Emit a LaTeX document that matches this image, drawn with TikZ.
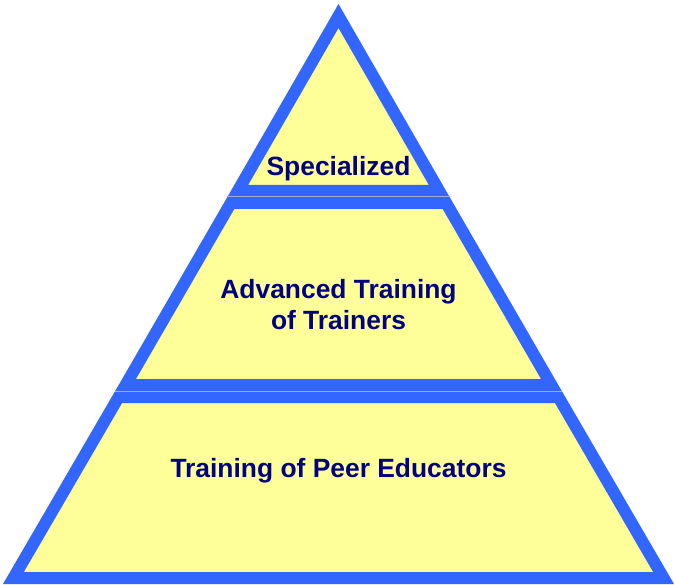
\documentclass[tikz,border=0pt]{standalone}
\usepackage{fontspec}
\setmainfont{Liberation Sans}
\usepackage{xcolor}
\usepackage{tikz}
\definecolor{pyrblue}{RGB}{51, 102, 255}
\definecolor{pyryellow}{RGB}{255, 255, 153}
\definecolor{pyrnavy}{RGB}{0, 0, 128}
\definecolor{pyrseam}{RGB}{160, 172, 215}

\tikzset{
  tier/.style={fill=pyryellow, draw=pyrblue, line width=24pt, line join=miter},
  seam/.style={draw=pyrseam, line width=1pt},
  tierlabel/.style={text=pyrnavy, font=\fontsize{26.4}{31}\selectfont\bfseries, align=center, anchor=base, inner sep=0pt}
}

\begin{document}
\begin{tikzpicture}[x=1pt, y=-1pt]
\useasboundingbox (0,0) rectangle (674,585);

% three tiers, each stroked on the inside only
\begin{scope}
  \clip (338.5,4) -- (449.6,197) -- (227.4,197) -- cycle;
  \draw[tier] (338.5,4) -- (449.6,197) -- (227.4,197) -- cycle;
\end{scope}
\begin{scope}
  \clip (227.4,197) -- (449.6,197) -- (561.8,391) -- (115.2,391) -- cycle;
  \draw[tier] (227.4,197) -- (449.6,197) -- (561.8,391) -- (115.2,391) -- cycle;
\end{scope}
\begin{scope}
  \clip (115.2,391) -- (561.8,391) -- (674,584) -- (3,584) -- cycle;
  \draw[tier] (115.2,391) -- (561.8,391) -- (674,584) -- (3,584) -- cycle;
\end{scope}

% thin seams where the tiers meet
\draw[seam] (227.4,197) -- (449.6,197);
\draw[seam] (115.2,391) -- (561.8,391);

% base of a two-line node is its last line
\node[tierlabel] (special) at (338.5,176) {Specialized};
\node[tierlabel] (advanced) at (338.5,329.3) {Advanced Training\\of Trainers};
\node[tierlabel] (peer) at (338.5,477.3) {Training of Peer Educators};
\end{tikzpicture}
\end{document}
